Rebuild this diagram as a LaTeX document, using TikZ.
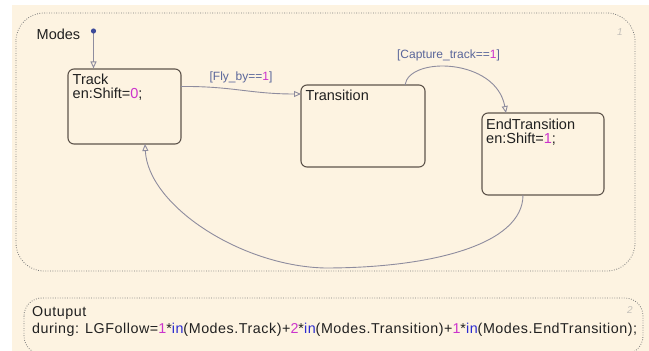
\documentclass[tikz,border=0pt]{standalone}
\usepackage{fontspec}
\setmainfont{Liberation Sans}
\usetikzlibrary{arrows.meta}
\definecolor{cream}{HTML}{FDF3E1}
\definecolor{boxline}{HTML}{5E544B}
\definecolor{trans}{HTML}{8E8C9E}
\definecolor{lbl}{HTML}{5A669A}
\definecolor{mag}{HTML}{CC33CC}
\definecolor{inblue}{HTML}{2A2AD0}
\definecolor{txt}{HTML}{202020}
\definecolor{dotline}{HTML}{7A7A7A}
\definecolor{numgray}{HTML}{C4C0BA}
\definecolor{dotblue}{HTML}{3C4A9A}
\begin{document}
\begin{tikzpicture}[x=1pt,y=-1pt,
  statebox/.style={draw=boxline, line width=1.1pt, rounded corners=6pt, fill=cream, inner sep=0pt},
  statetext/.style={anchor=base west, align=left, inner sep=0pt, text=txt, font=\fontsize{14.5pt}{14pt}\selectfont},
  transline/.style={draw=trans, line width=0.9pt, -{Triangle[open, length=7pt, width=6pt]}},
  guard/.style={inner sep=0pt, text=lbl, font=\fontsize{12pt}{14pt}\selectfont},
  chartbox/.style={draw=dotline, line width=0.8pt, dash pattern=on 0.8pt off 1.6pt},
  numlbl/.style={inner sep=0pt, text=numgray, font=\fontsize{10pt}{12pt}\selectfont\itshape}
]
\useasboundingbox (0,0) rectangle (649,351);
\clip (0,0) rectangle (649,351);
\fill[white] (0,0) rectangle (649,351);
\fill[cream] (12,5) rectangle (649,351);

% superstate and output boxes
\draw[chartbox, rounded corners=28pt] (16,13) rectangle (635,271);
\draw[chartbox, rounded corners=18pt] (24,298) rectangle (643,354);
\node[numlbl] (n1) at (620,32) {1};
\node[numlbl] (n2) at (630,310) {2};

\node[statetext] (modes) at (36.5,39.5) {Modes};

% states
\node[statebox, minimum width=113pt, minimum height=75pt] (track) at (124.5,106.5) {};
\node[statebox, minimum width=124pt, minimum height=82pt] (transition) at (363,126) {};
\node[statebox, minimum width=122pt, minimum height=82pt] (endtr) at (543,154) {};

% (base anchor of a two-line node is the baseline of its last line)
\node[statetext] (tracktxt) at (72.5,98.5) {Track\\en:Shift=\textcolor{mag}{0};};
\node[statetext] (transtxt) at (305.5,100.7) {Transition};
\node[statetext] (endtxt) at (486,143.5) {EndTransition\\en:Shift=\textcolor{mag}{1};};

% default transition
\coordinate (def) at (93.5,31);
\draw[transline] (def) -- (def |- track.north);
\fill[dotblue] (def) circle (2.6pt);

% transitions
\coordinate (t1s) at (181,86.5);
\coordinate (t1e) at (301,94);
\draw[transline] (t1s) .. controls (232,86) and (250,94) .. (t1e);
\node[guard] (g1) at (241,77.5) {[Fly\_by==\textcolor{mag}{1}]};

\coordinate (t2s) at (405,85);
\coordinate (t2e) at (506,113);
\draw[transline] (t2s) .. controls (409,56) and (496,58) .. (t2e);
\node[guard] (g2) at (448.5,55) {[Capture\_track==\textcolor{mag}{1}]};

\coordinate (t3s) at (523,195);
\coordinate (t3m) at (325,268);
\coordinate (t3e) at (145,144);
\draw[transline] (t3s) .. controls (523,245) and (430,268) .. (t3m) .. controls (240,266) and (148,205) .. (t3e);

% output function
\node[statetext, font=\fontsize{14.3pt}{17pt}\selectfont\addfontfeature{LetterSpace=3.8}] (outtxt) at (32,333) {Outuput\\during: LGFollow=\textcolor{mag}{1}*\textcolor{inblue}{in}(Modes.Track)+\textcolor{mag}{2}*\textcolor{inblue}{in}(Modes.Transition)+\textcolor{mag}{1}*\textcolor{inblue}{in}(Modes.EndTransition);};
\end{tikzpicture}
\end{document}
